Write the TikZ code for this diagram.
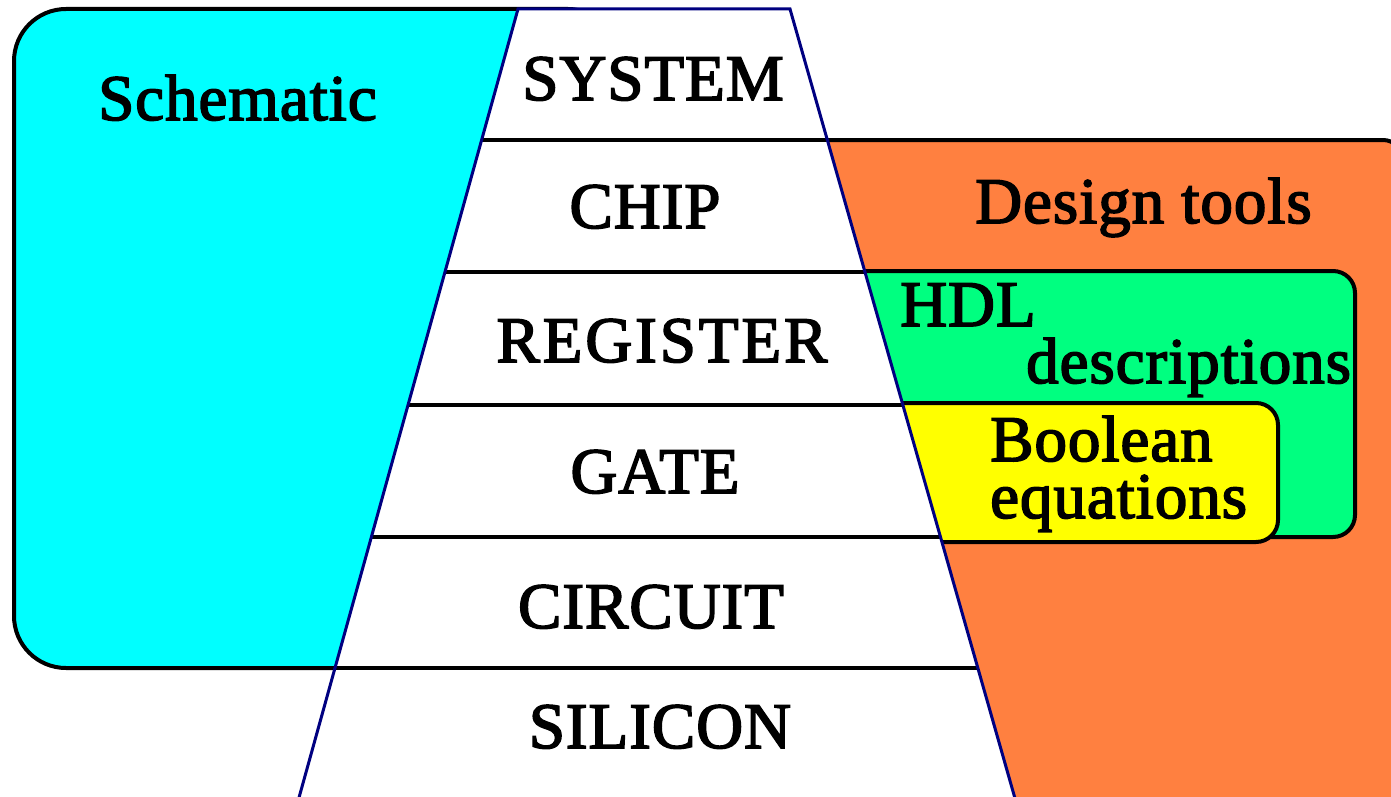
\documentclass[tikz,border=0pt]{standalone}
\usepackage{fontspec}
\newfontfamily\lblfont{Liberation Serif}[FakeBold=2.5,LetterSpace=1.5]
\newfontfamily\widelblfont{Liberation Serif}[FakeBold=2.5,LetterSpace=4.5]
\definecolor{cyanfill}{RGB}{0,255,255}
\definecolor{orangefill}{RGB}{255,128,64}
\definecolor{greenfill}{RGB}{0,255,128}
\definecolor{yellowfill}{RGB}{255,255,0}
\definecolor{navyline}{RGB}{0,0,128}
\begin{document}
\begin{tikzpicture}[x=1pt,y=-1pt,
  box/.style={draw=black,line width=4pt},
  divider/.style={draw=black,line width=4pt},
  edge/.style={draw=navyline,line width=3pt},
  lbl/.style={inner sep=0pt,font=\lblfont\fontsize{65}{78}\selectfont},
  widelbl/.style={inner sep=0pt,font=\widelblfont\fontsize{65}{78}\selectfont}]
\useasboundingbox (0,0) rectangle (1391,797);
\clip (0,0) rectangle (1391,797);
% Schematic region
\fill[cyanfill,box,rounded corners=52pt] (14,9) rectangle (620,668);
% Design tools region
\fill[orangefill,box,rounded corners=20pt] (700,140) rectangle (1403,808);
% HDL descriptions
\fill[greenfill,box,rounded corners=22pt] (800,271) rectangle (1355,537);
% Boolean equations
\fill[yellowfill,box,rounded corners=22pt] (800,403) rectangle (1278,542);
% pyramid of levels
\coordinate (tl) at (518,9);
\coordinate (tr) at (790,9);
\coordinate (bl) at (290,830);
\coordinate (br) at (1024,830);
\fill[white] (tl) -- (tr) -- (br) -- (bl) -- cycle;
\foreach \y in {140,272,405,537,668}{
  \draw[divider] ({518-0.2777*(\y-9)},\y) -- ({790+0.2855*(\y-9)},\y);
}
\draw[edge] (bl) -- (tl) -- (tr) -- (br);
% labels
\node[lbl,anchor=base] (system) at (653,100) {SYSTEM};
\node[lbl,anchor=base] (chip) at (645,228) {CHIP};
\node[widelbl,anchor=base] (register) at (662,362) {REGISTER};
\node[lbl,anchor=base] (gate) at (655,493) {GATE};
\node[lbl,anchor=base] (circuit) at (651,628) {CIRCUIT};
\node[lbl,anchor=base] (silicon) at (660,748) {SILICON};
\node[lbl,anchor=base west] (schematic) at (98,120) {Schematic};
\node[lbl,anchor=base west] (design) at (975,223) {Design tools};
\node[lbl,anchor=base west] (hdl) at (900,326) {HDL};
\node[lbl,anchor=base west] (descr) at (1026,383) {descriptions};
\node[lbl,anchor=base west] (boolean) at (990,461) {Boolean};
\node[lbl,anchor=base west] (equations) at (990,518) {equations};
\end{tikzpicture}
\end{document}
